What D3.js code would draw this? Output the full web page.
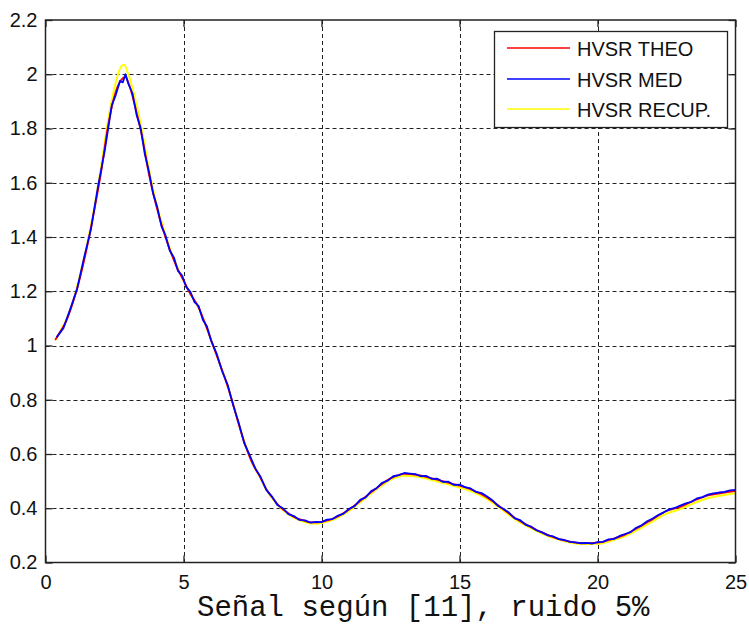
<!DOCTYPE html>
<html>
<head>
<meta charset="utf-8">
<script src="https://cdn.jsdelivr.net/npm/d3@7"></script>
<style>
  html, body { margin:0; padding:0; background:#fff; }
  svg { display:block; }
  .tick text { font-family: "Liberation Sans", Arial, sans-serif; font-size:20px; fill:#111; }
</style>
</head>
<body>
<svg id="chart" width="749" height="628"></svg>
<script>
// curve samples
const theoX = [0.35,0.5,0.75,1.0,1.25,1.5,1.75,2.0,2.25,2.5,2.75,2.9,3.0,3.25,3.5,3.75,4.0,4.25,4.5,4.75,5.0,5.25,5.5,5.75,6.0,6.25,6.5,6.75,7.0,7.25,7.5,7.75,8.0,8.25,8.5,8.75,9.0,9.25,9.5,9.75,10,10.5,11,11.5,12,12.5,13,13.5,14,14.5,15,15.5,16,16.5,17,17.5,18,18.5,19,19.5,20,20.5,21,21.5,22,22.5,23,23.5,24,24.5,25];
const theoY = [1.02,1.045,1.09,1.16,1.25,1.36,1.49,1.63,1.80,1.92,1.98,1.99,1.97,1.88,1.77,1.63,1.52,1.43,1.355,1.29,1.24,1.19,1.15,1.09,1.02,0.95,0.88,0.80,0.71,0.63,0.565,0.52,0.47,0.435,0.405,0.385,0.368,0.358,0.35,0.348,0.35,0.365,0.395,0.435,0.475,0.51,0.527,0.522,0.51,0.497,0.483,0.466,0.44,0.403,0.365,0.335,0.31,0.29,0.277,0.271,0.273,0.285,0.303,0.33,0.36,0.39,0.405,0.428,0.447,0.456,0.463];

const recupX = [0.35,0.5,0.75,1.0,1.25,1.5,1.75,2.0,2.25,2.5,2.75,2.85,3.0,3.25,3.5,3.75,4.0,4.25,4.5,4.75,5.0,5.25,5.5,5.75,6.0,6.25,6.5,6.75,7.0,7.25,7.5,7.75,8.0,8.25,8.5,8.75,9.0,9.25,9.5,9.75,10,10.5,11,11.5,12,12.5,13,13.5,14,14.5,15,15.5,16,16.5,17,17.5,18,18.5,19,19.5,20,20.5,21,21.5,22,22.5,23,23.5,24,24.5,25];
const recupY = [1.02,1.045,1.095,1.165,1.26,1.37,1.50,1.65,1.82,1.95,2.03,2.035,2.0,1.91,1.79,1.65,1.53,1.44,1.36,1.295,1.24,1.19,1.148,1.09,1.02,0.95,0.88,0.80,0.712,0.632,0.565,0.518,0.468,0.432,0.403,0.382,0.365,0.354,0.346,0.344,0.346,0.361,0.39,0.43,0.47,0.505,0.52,0.516,0.504,0.49,0.476,0.46,0.434,0.398,0.36,0.331,0.306,0.287,0.274,0.268,0.269,0.28,0.297,0.323,0.352,0.38,0.397,0.419,0.437,0.447,0.455];

const medX = [0.4,0.65,0.9,1.15,1.4,1.65,1.9,2.15,2.4,2.55,2.7,2.8,2.9,3.0,3.15,3.3,3.45,3.6,3.75,3.9,4.05,4.2,4.35,4.5,4.65,4.8,4.95,5.1,5.25,5.4,5.55,5.7,5.85,6.0,6.2,6.4,6.6,6.8,7.0,7.2,7.4,7.6,7.8,8.0,8.2,8.4,8.6,8.8,9.0,9.2,9.4,9.6,9.8,10.0,10.2,10.4,10.6,10.8,11.0,11.2,11.4,11.6,11.8,12.0,12.2,12.4,12.6,12.8,13.0,13.2,13.4,13.6,13.8,14.0,14.2,14.4,14.6,14.8,15.0,15.2,15.4,15.6,15.8,16.0,16.2,16.4,16.6,16.8,17.0,17.2,17.4,17.6,17.8,18.0,18.2,18.4,18.6,18.8,19.0,19.2,19.4,19.6,19.8,20.0,20.2,20.4,20.6,20.8,21.0,21.2,21.4,21.6,21.8,22.0,22.2,22.4,22.6,22.8,23.0,23.2,23.4,23.6,23.8,24.0,24.2,24.4,24.6,24.8,25.0];
const medY = [1.03,1.064,1.135,1.21,1.325,1.43,1.585,1.72,1.885,1.925,1.975,1.97,2.0,1.965,1.93,1.85,1.80,1.705,1.64,1.56,1.51,1.44,1.405,1.35,1.325,1.275,1.258,1.215,1.198,1.16,1.145,1.095,1.07,1.018,0.97,0.905,0.855,0.78,0.715,0.64,0.595,0.547,0.514,0.468,0.444,0.412,0.4,0.378,0.371,0.357,0.355,0.347,0.35,0.349,0.358,0.36,0.373,0.38,0.398,0.408,0.431,0.44,0.463,0.474,0.494,0.502,0.518,0.522,0.53,0.528,0.526,0.518,0.519,0.508,0.509,0.497,0.498,0.486,0.487,0.478,0.473,0.46,0.456,0.443,0.429,0.408,0.397,0.383,0.363,0.356,0.339,0.332,0.318,0.311,0.3,0.296,0.286,0.283,0.276,0.274,0.271,0.272,0.27,0.275,0.276,0.285,0.287,0.298,0.305,0.312,0.328,0.337,0.352,0.362,0.375,0.385,0.396,0.401,0.41,0.418,0.424,0.436,0.441,0.45,0.455,0.458,0.46,0.466,0.468];

const xTicks = [0,5,10,15,20,25];
const yTicks = [0.2,0.4,0.6,0.8,1,1.2,1.4,1.6,1.8,2,2.2];
const seriesNames = ['HVSR THEO','HVSR MED','HVSR RECUP.'];
const seriesColors = ['#ff0000','#0000ff','#ffff00'];
const xLabel = 'Señal según [11], ruido 5%';

const pLeft = 45.5, pRight = 735.5, pTop = 20, pBottom = 562.5;
const svg = d3.select('#chart');
const x = d3.scaleLinear().domain([0,25]).range([pLeft,pRight]);
const y = d3.scaleLinear().domain([0.2,2.2]).range([pBottom,pTop]);

// grid
const grid = svg.append('g').attr('stroke','#222').attr('stroke-width',1).attr('stroke-dasharray','4,3');
grid.selectAll('line.gx').data(xTicks.slice(1,-1)).join('line').attr('class','gx')
  .attr('x1',d=>Math.round(x(d))+0.5).attr('x2',d=>Math.round(x(d))+0.5).attr('y1',pTop).attr('y2',pBottom);
grid.selectAll('line.gy').data(yTicks.slice(1,-1)).join('line').attr('class','gy')
  .attr('x1',pLeft).attr('x2',pRight).attr('y1',d=>Math.round(y(d))+0.5).attr('y2',d=>Math.round(y(d))+0.5);

// lines
const line = d3.line().x(d=>x(d[0])).y(d=>y(d[1])).curve(d3.curveMonotoneX);
const zip = (a,b)=>a.map((v,i)=>[v,b[i]]);
const plotG = svg.append('g').attr('fill','none').attr('stroke-linejoin','round');
plotG.append('path').attr('d', line(zip(recupX,recupY))).attr('stroke',seriesColors[2]).attr('stroke-width',2);
plotG.append('path').attr('d', line(zip(theoX,theoY))).attr('stroke',seriesColors[0]).attr('stroke-width',1.8);
plotG.append('path').attr('d', d3.line().x(d=>x(d[0])).y(d=>y(d[1]))(zip(medX,medY))).attr('stroke',seriesColors[1]).attr('stroke-width',1.8);

// axes (ticks inside, on all four sides)
const tk = 7;
svg.append('g').attr('transform',`translate(0,${pBottom})`)
  .call(d3.axisBottom(x).tickValues(xTicks).tickSize(-tk).tickPadding(12).tickFormat(d3.format('d')))
  .call(g=>g.select('.domain').remove());
svg.append('g').attr('transform',`translate(${pLeft},0)`)
  .call(d3.axisLeft(y).tickValues(yTicks).tickSize(-tk).tickPadding(8).tickFormat(d=>String(+d.toFixed(1))))
  .call(g=>g.select('.domain').remove());
svg.append('g').attr('transform',`translate(0,${pTop})`)
  .call(d3.axisTop(x).tickValues(xTicks).tickSize(-tk).tickFormat(''))
  .call(g=>g.select('.domain').remove());
svg.append('g').attr('transform',`translate(${pRight},0)`)
  .call(d3.axisRight(y).tickValues(yTicks).tickSize(-tk).tickFormat(''))
  .call(g=>g.select('.domain').remove());
svg.selectAll('.tick line').attr('stroke','#222').attr('stroke-width',1.3);
svg.selectAll('.tick text').attr('fill','#111');

svg.append('rect').attr('x',pLeft).attr('y',pTop).attr('width',pRight-pLeft).attr('height',pBottom-pTop)
  .attr('fill','none').attr('stroke','#222').attr('stroke-width',1.5);

// legend
const lg = svg.append('g');
lg.append('rect').attr('x',494.5).attr('y',31.5).attr('width',233).attr('height',96)
  .attr('fill','#fff').attr('stroke','#222').attr('stroke-width',1.3);
const rowY = [48,79,109];
const rows = lg.selectAll('g.row').data(seriesNames).join('g').attr('class','row');
rows.append('line').attr('x1',507).attr('x2',570).attr('y1',(d,i)=>rowY[i]).attr('y2',(d,i)=>rowY[i])
  .attr('stroke',(d,i)=>seriesColors[i]).attr('stroke-width',1.3);
rows.append('text').attr('x',577).attr('y',(d,i)=>rowY[i]+8).text(d=>d)
  .attr('font-family','"Liberation Sans", Arial, sans-serif').attr('font-size',20).attr('fill','#111');

// x label
svg.append('text').attr('x',197).attr('y',616).text(xLabel)
  .attr('font-family','"Liberation Mono", "Courier New", monospace').attr('font-size',29).attr('fill','#111');
</script>
</body>
</html>
